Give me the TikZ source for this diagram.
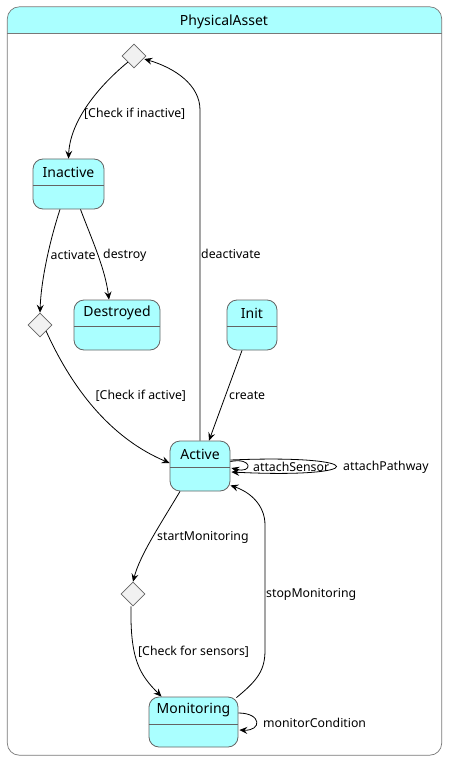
\documentclass[tikz,border=0pt]{standalone}
\usepackage{fontspec}
\setmainfont{Noto Sans}
\usetikzlibrary{arrows.meta,calc,shapes.geometric}
\definecolor{stfill}{RGB}{170,255,255}
\definecolor{stline}{RGB}{100,100,100}
\definecolor{boxline}{RGB}{120,120,120}
\definecolor{dfill}{RGB}{241,241,241}
\tikzset{
 statebox/.style={draw=stline, fill=stfill, rounded corners=10pt, line width=0.8pt, inner sep=0pt},
 choice/.style={draw=stline, fill=dfill, diamond, minimum width=24pt, minimum height=24pt, inner sep=0pt, line width=0.6pt},
 sname/.style={font=\fontsize{14}{16}\selectfont, inner sep=0pt},
 elabel/.style={font=\fontsize{12.3}{14}\selectfont, inner sep=0pt, anchor=west},
 tr/.style={draw, line width=0.8pt, -{Stealth[length=8pt,width=7pt,inset=3pt]}},
 divider/.style={draw=stline, line width=0.8pt},
}
\begin{document}
\begin{tikzpicture}[x=1pt,y=-1pt]
\useasboundingbox (0,0) rectangle (448,762);
% container
\node[minimum width=434pt, minimum height=748pt, inner sep=0pt] (pa) at (224.5,381) {};
\begin{scope}
\clip[rounded corners=12pt] (pa.north west) rectangle (pa.south east);
\fill[stfill] (pa.north west) rectangle (pa.east |- 0,33);
\end{scope}
\draw[boxline, line width=0.7pt, rounded corners=12pt] (pa.north west) rectangle (pa.south east);
\draw[boxline, line width=0.7pt] (pa.west |- 0,33) -- (pa.east |- 0,33);
\node[sname] (title) at (224,21.5) {PhysicalAsset};

% choice points
\node[choice] (d1) at (134,56) {};
\node[choice] (d2) at (40,325) {};
\node[choice] (d3) at (133,594) {};

% states
\node[statebox, minimum width=71pt, minimum height=50pt] (Inactive) at (68.5,184) {};
\node[sname] (nInactive) at (68.5,172) {Inactive};
\draw[divider] (Inactive.west |- 0,185) -- (Inactive.east |- 0,185);

\node[statebox, minimum width=86pt, minimum height=50pt] (Destroyed) at (117,325) {};
\node[sname] (nDestroyed) at (117,313) {Destroyed};
\draw[divider] (Destroyed.west |- 0,326) -- (Destroyed.east |- 0,326);

\node[statebox, minimum width=50pt, minimum height=50pt] (Init) at (252,325) {};
\node[sname] (nInit) at (252,313) {Init};
\draw[divider] (Init.west |- 0,326) -- (Init.east |- 0,326);

\node[statebox, minimum width=60pt, minimum height=50pt] (Active) at (200,466) {};
\node[sname] (nActive) at (200,454) {Active};
\draw[divider] (Active.west |- 0,467) -- (Active.east |- 0,467);

\node[statebox, minimum width=89pt, minimum height=50pt] (Monitoring) at (193.5,722) {};
\node[sname] (nMonitoring) at (193.5,710) {Monitoring};
\draw[divider] (Monitoring.west |- 0,724) -- (Monitoring.east |- 0,724);

% transitions
\draw[tr] (d1.south west) .. controls (100,85) and (70,120) .. (Inactive.north);
\draw[tr] (Active.north) -- (200,110) .. controls (200,85) and (175,68) .. ($(d1.east)+(-2,3)$);
\draw[tr] ($(Inactive.south)+(-8.5,0)$) .. controls (50,240) and (41,280) .. (d2.north);
\draw[tr] ($(Inactive.south)+(12,0)$) .. controls (92,240) and (105,268) .. ($(Destroyed.north)+(-8,0)$);
\draw[tr] (d2.south east) .. controls (75,395) and (115,440) .. ($(Active.west)+(0,-3)$);
\draw[tr] ($(Init.south)+(-10,0)$) -- ($(Active.north)+(9,0)$);
\draw[tr] ($(Active.south)+(-20,0)$) .. controls (160,525) and (140,555) .. (d3.north);
\draw[tr] ($(d3.south)+(-2,0)$) .. controls (130,660) and (140,675) .. ($(Monitoring.north)+(-32,0)$);
\draw[tr] ($(Monitoring.north east)+(-2,1)$) .. controls (258,680) and (265,670) .. (265,650) -- (265,525) .. controls (265,505) and (250,492) .. ($(Active.south east)+(0,-6)$);
\draw[tr] ($(Monitoring.east)+(0,-9)$) .. controls (262,713) and (262,731) .. ($(Monitoring.east)+(1,8)$);
\draw[tr] ($(Active.east)+(0,-4.5)$) .. controls (253,457) and (253,474) .. ($(Active.east)+(1,2)$);
\draw[tr] ($(Active.east)+(0,-6)$) .. controls (371,454) and (371,479) .. ($(Active.east)+(1,6)$);

% labels
\node[elabel] (l1) at (84,114) {[Check if inactive]};
\node[elabel] (l2) at (201,254) {deactivate};
\node[elabel] (l3) at (50.5,255) {activate};
\node[elabel] (l4) at (103,255) {destroy};
\node[elabel] (l5) at (95.5,396) {[Check if active]};
\node[elabel] (l6) at (229,396) {create};
\node[elabel] (l7) at (253,467) {attachSensor};
\node[elabel] (l8) at (343,467) {attachPathway};
\node[elabel] (l9) at (157,537) {startMonitoring};
\node[elabel] (l10) at (266,594) {stopMonitoring};
\node[elabel] (l11) at (138,652) {[Check for sensors]};
\node[elabel] (l12) at (263,723) {monitorCondition};
\end{tikzpicture}
\end{document}
